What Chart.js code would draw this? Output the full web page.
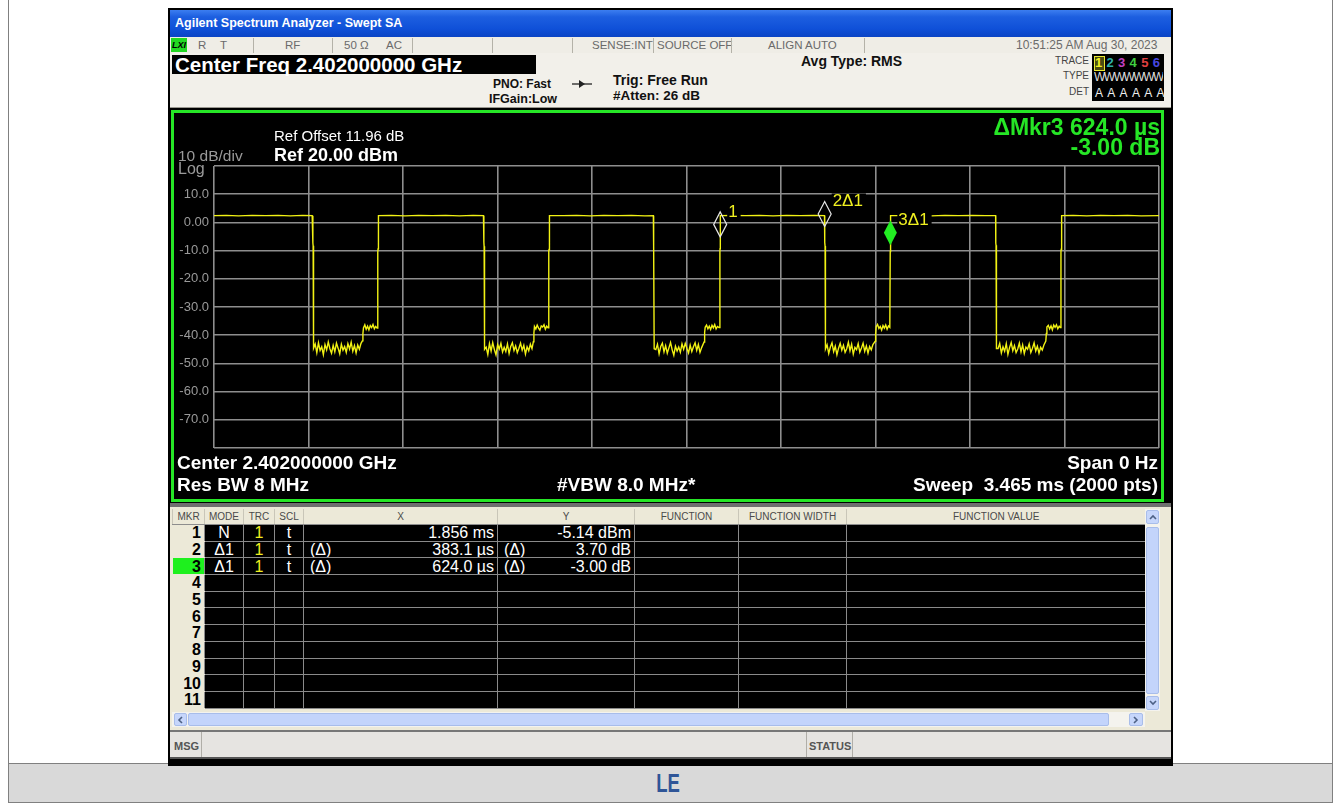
<!DOCTYPE html>
<html>
<head>
<meta charset="utf-8">
<title>Agilent Spectrum Analyzer - Swept SA</title>
<script src="https://cdn.jsdelivr.net/npm/chart.js@4.4.1/dist/chart.umd.min.js"></script>
<style>
  body { margin:0; width:1340px; height:803px; overflow:hidden; background:#fff; position:relative; font-family:"Liberation Sans", Arial, sans-serif; }
  .a { position:absolute; white-space:pre; }
  .st { top:37px; height:16px; line-height:16px; font-size:11.5px; color:#6a6a6a; }
  .vd { position:absolute; top:38px; width:1px; height:15px; background:#b4b2a8; }
  .hd { font-weight:bold; color:#111; }
  .pw { color:#fff; font-weight:bold; font-size:19px; line-height:22px; }
  .lab { color:#444; font-size:10px; text-align:right; width:60px; line-height:12px; }
  #mkr { position:absolute; left:172px; top:509px; width:973px; border-collapse:collapse; table-layout:fixed; }
  #mkr th { height:15px; padding:0; background:#ece9d8; color:#4a4a4a; font-weight:normal; font-size:10px; border-left:1px solid #c9c6b8; border-bottom:1px solid #8d8d8d; }
  #mkr td { height:15.7px; padding:0; background:#000; color:#fff; font-size:16px; line-height:15px; border:1px solid #8a8a8a; overflow:hidden; white-space:nowrap; }
  #mkr td.n { background:#ece9d8; color:#000; font-weight:bold; text-align:right; padding-right:3px; border-color:#ece9d8 #8a8a8a #ece9d8 #ece9d8; }
  #mkr td.on { background:#1ef01e; }
  #mkr td.c { text-align:center; }
  .pre { float:left; padding-left:6px; }
  .val { float:right; padding-right:3px; }
</style>
</head>
<body>
<!-- page frame and caption bar -->
<div class="a" style="left:8px;top:-1px;width:1323px;height:764px;border:1px solid #808080"></div>
<div class="a" style="left:8px;top:763px;width:1323px;height:38px;background:#d9d9d9;border:1px solid #808080"></div>
<div class="a" style="left:652px;top:770px;width:32px;text-align:center;font:bold 25px 'Liberation Sans';line-height:26px;color:#2f5597;transform:scaleX(0.74)">LE</div>

<!-- instrument screen -->
<div class="a" style="left:168px;top:8px;width:1005px;height:758px;background:#000"></div>
<div class="a" style="left:170px;top:10px;width:1001px;height:27px;background:linear-gradient(#3c7ef0 0%,#1d5fe0 25%,#0f50d8 70%,#0a44c4 100%)"></div>
<div class="a" style="left:175px;top:14px;font:bold 12.5px 'Liberation Sans';line-height:18px;color:#fff">Agilent Spectrum Analyzer - Swept SA</div>

<!-- status row -->
<div class="a" style="left:170px;top:37px;width:1001px;height:16px;background:#efede6"></div>
<div class="a" style="left:171px;top:38px;width:16px;height:14px;background:#22d822;font:italic bold 9px 'Liberation Sans';line-height:14px;color:#000;text-align:center">LXI</div>
<div class="a st" style="left:198px">R</div>
<div class="a st" style="left:220px">T</div>
<div class="vd" style="left:253px"></div>
<div class="a st" style="left:285px">RF</div>
<div class="vd" style="left:332px"></div>
<div class="a st" style="left:344px">50 Ω</div>
<div class="a st" style="left:386px">AC</div>
<div class="vd" style="left:412px"></div>
<div class="vd" style="left:492px"></div>
<div class="vd" style="left:572px"></div>
<div class="a st" style="left:592px">SENSE:INT</div>
<div class="vd" style="left:653px"></div>
<div class="a st" style="left:657px">SOURCE OFF</div>
<div class="vd" style="left:731px"></div>
<div class="a st" style="left:768px">ALIGN AUTO</div>
<div class="vd" style="left:864px"></div>
<div class="a st" style="left:1016px;font-size:12px">10:51:25 AM Aug 30, 2023</div>

<!-- header -->
<div class="a" style="left:170px;top:53px;width:1001px;height:54px;background:#f2f0ea;border-bottom:2px solid #9a9890"></div>
<div class="a" style="left:172px;top:55px;width:364px;height:19px;background:#000"></div>
<div class="a" style="left:175px;top:54px;font:bold 20.5px 'Liberation Sans';line-height:22px;color:#fff">Center Freq 2.402000000 GHz</div>
<div class="a hd" style="left:493px;top:77px;font-size:12px;line-height:14px">PNO: Fast</div>
<div class="a hd" style="left:489px;top:92px;font-size:12.5px;line-height:14px">IFGain:Low</div>
<svg class="a" style="left:572px;top:79px" width="20" height="10"><line x1="0" y1="5" x2="20" y2="5" stroke="#222" stroke-width="1.3"/><polygon points="7,1 13,5 7,9" fill="#222"/></svg>
<div class="a hd" style="left:613px;top:72px;font-size:14px;line-height:16px">Trig: Free Run</div>
<div class="a hd" style="left:613px;top:88px;font-size:13.5px;line-height:16px">#Atten: 26 dB</div>
<div class="a hd" style="left:801px;top:53px;font-size:14px;line-height:16px">Avg Type: RMS</div>
<div class="a lab" style="left:1029px;top:55px">TRACE</div>
<div class="a lab" style="left:1029px;top:70px">TYPE</div>
<div class="a lab" style="left:1029px;top:86px">DET</div>
<div class="a" style="left:1092px;top:54px;width:72px;height:47px;background:#000;overflow:hidden"></div>
<div class="a" style="left:1094px;top:56px;width:9px;height:13px;border:1px solid #e8e832;background:#4a4a10"></div>
<div class="a" id="traceNums" style="left:1095px;top:55px;font-size:13px;line-height:15px;font-weight:bold;letter-spacing:4.3px"></div>
<div class="a" style="left:1094px;top:70px;width:69px;height:15px;overflow:hidden;font-size:12px;line-height:15px;color:#ddd;letter-spacing:-1.5px">WWWWWWWWW</div>
<div class="a" style="left:1095px;top:86px;font-size:12px;line-height:15px;color:#eee;letter-spacing:4.3px">AAAAAA</div>

<!-- plot area -->
<div class="a" style="left:170px;top:108px;width:1001px;height:396px;background:#000"></div>
<div class="a" style="left:171px;top:110px;width:987px;height:386px;border:3px solid #26e626"></div>
<canvas id="trace" class="a" width="987" height="386" style="left:174px;top:113px"></canvas>
<div class="a" style="left:178px;top:147px;font-size:15.5px;line-height:18px;color:#9a9a9a">10 dB/div</div>
<div class="a" style="left:178px;top:160px;font-size:16px;line-height:18px;color:#9a9a9a">Log</div>
<div class="a" style="left:274px;top:127px;font-size:15px;line-height:18px;color:#fff">Ref Offset 11.96 dB</div>
<div class="a" style="left:274px;top:145px;font:bold 18px 'Liberation Sans';line-height:20px;color:#fff">Ref 20.00 dBm</div>
<div class="a" style="right:180px;top:114px;font:bold 23px 'Liberation Sans';line-height:26px;color:#26e626">ΔMkr3 624.0 µs</div>
<div class="a" style="right:180px;top:134px;font:bold 23px 'Liberation Sans';line-height:26px;color:#26e626">-3.00 dB</div>
<div class="a pw" style="left:177px;top:452px">Center 2.402000000 GHz</div>
<div class="a pw" style="left:177px;top:474px">Res BW 8 MHz</div>
<div class="a pw" style="left:557px;top:474px">#VBW 8.0 MHz*</div>
<div class="a pw" style="right:182px;top:452px">Span 0 Hz</div>
<div class="a pw" style="right:182px;top:474px">Sweep  3.465 ms (2000 pts)</div>

<!-- marker table -->
<div class="a" style="left:170px;top:503px;width:1001px;height:228px;background:#ece9d8;border-top:4px solid #6f6f6f;box-sizing:border-box"></div>
<table id="mkr">
  <colgroup><col style="width:32px"><col style="width:39px"><col style="width:31px"><col style="width:29px"><col style="width:194px"><col style="width:137px"><col style="width:104px"><col style="width:108px"><col style="width:299px"></colgroup>
  <thead><tr><th>MKR</th><th>MODE</th><th>TRC</th><th>SCL</th><th>X</th><th>Y</th><th>FUNCTION</th><th>FUNCTION WIDTH</th><th>FUNCTION VALUE</th></tr></thead>
  <tbody id="mkrRows"></tbody>
</table>
<!-- scroll bars -->
<div class="a" style="left:1145px;top:509px;width:15px;height:202px;background:#f4f3ee"></div>
<div class="a" style="left:1146px;top:510px;width:13px;height:14px;background:#c6d6fb;border-radius:2px;border:1px solid #a8bdea;box-sizing:border-box"></div>
<svg class="a" style="left:1149px;top:514px" width="8" height="6"><polyline points="1,5 4,2 7,5" fill="none" stroke="#4d6185" stroke-width="1.6"/></svg>
<div class="a" style="left:1146px;top:527px;width:13px;height:167px;background:#c3d4fb;border-radius:2px;border:1px solid #a8bdea;box-sizing:border-box"></div>
<div class="a" style="left:1146px;top:696px;width:13px;height:14px;background:#c6d6fb;border-radius:2px;border:1px solid #a8bdea;box-sizing:border-box"></div>
<svg class="a" style="left:1149px;top:700px" width="8" height="6"><polyline points="1,1 4,4 7,1" fill="none" stroke="#4d6185" stroke-width="1.6"/></svg>
<div class="a" style="left:172px;top:712px;width:973px;height:15px;background:#f4f3ee"></div>
<div class="a" style="left:188px;top:713px;width:921px;height:13px;background:#c3d4fb;border-radius:2px;border:1px solid #a8bdea;box-sizing:border-box"></div>
<div class="a" style="left:174px;top:713px;width:13px;height:13px;background:#c6d6fb;border-radius:2px;border:1px solid #a8bdea;box-sizing:border-box"></div>
<svg class="a" style="left:177px;top:716px" width="6" height="8"><polyline points="5,1 2,4 5,7" fill="none" stroke="#4d6185" stroke-width="1.6"/></svg>
<div class="a" style="left:1129px;top:713px;width:14px;height:13px;background:#c6d6fb;border-radius:2px;border:1px solid #a8bdea;box-sizing:border-box"></div>
<svg class="a" style="left:1133px;top:716px" width="6" height="8"><polyline points="1,1 4,4 1,7" fill="none" stroke="#4d6185" stroke-width="1.6"/></svg>

<!-- message bar -->
<div class="a" style="left:170px;top:730px;width:1001px;height:29px;background:#e6e4e1;border-top:2px solid #777;border-bottom:2px solid #555;box-sizing:border-box"></div>
<div class="a" style="left:174px;top:739px;font:bold 11px 'Liberation Sans';line-height:14px;color:#555">MSG</div>
<div class="a" style="left:201px;top:732px;width:1px;height:25px;background:#b0aea8"></div>
<div class="a" style="left:806px;top:732px;width:1px;height:25px;background:#b0aea8"></div>
<div class="a" style="left:809px;top:739px;font:bold 11px 'Liberation Sans';line-height:14px;color:#555">STATUS</div>
<div class="a" style="left:852px;top:732px;width:1px;height:25px;background:#b0aea8"></div>

<script>
// sweep: 0 .. 3.465 ms, 10 divisions; level: -80 .. 20 dBm, 10 dB/div
const xGridMs = [0, 0.3465, 0.693, 1.0395, 1.386, 1.7325, 2.079, 2.4255, 2.772, 3.1185, 3.465];
const yGridDbm = [-80, -70, -60, -50, -40, -30, -20, -10, 0, 10, 20];
const yTickLabels = ['', '-70.0', '-60.0', '-50.0', '-40.0', '-30.0', '-20.0', '-10.0', '0.00', '10.0', ''];

// trace 1 (time in ms, level in dBm)
const traceMs = [
  0, 0.045, 0.09, 0.14, 0.19, 0.235, 0.28, 0.325, 0.360,
  0.3625, 0.3635, 0.365,
  0.371, 0.377, 0.383, 0.389, 0.395, 0.401, 0.407, 0.413, 0.419, 0.425,
  0.431, 0.437, 0.443, 0.449, 0.455, 0.461, 0.467, 0.473, 0.479, 0.485,
  0.491, 0.497, 0.503, 0.509, 0.515, 0.521, 0.527, 0.533, 0.539, 0.544,
  0.546, 0.548, 0.553, 0.558, 0.563, 0.568, 0.573, 0.578, 0.583, 0.588, 0.593, 0.598,
  0.6005, 0.6015, 0.603,
  0.65, 0.70, 0.75, 0.80, 0.85, 0.90, 0.95, 0.988,
  0.9895, 0.9905, 0.992,
  0.998, 1.004, 1.010, 1.016, 1.022, 1.028, 1.034, 1.040, 1.046, 1.052,
  1.058, 1.064, 1.070, 1.076, 1.082, 1.088, 1.094, 1.100, 1.106, 1.112,
  1.118, 1.124, 1.130, 1.136, 1.142, 1.148, 1.154, 1.160, 1.166, 1.171,
  1.173, 1.175, 1.180, 1.185, 1.190, 1.195, 1.200, 1.205, 1.210, 1.215, 1.220, 1.225,
  1.2275, 1.2285, 1.230,
  1.28, 1.33, 1.38, 1.43, 1.48, 1.53, 1.58, 1.611,
  1.6115, 1.6125, 1.614,
  1.620, 1.626, 1.632, 1.638, 1.644, 1.650, 1.656, 1.662, 1.668, 1.674,
  1.680, 1.686, 1.692, 1.698, 1.704, 1.710, 1.716, 1.722, 1.728, 1.734,
  1.740, 1.746, 1.752, 1.758, 1.764, 1.770, 1.776, 1.782, 1.788, 1.797,
  1.799, 1.801, 1.806, 1.811, 1.816, 1.821, 1.826, 1.831, 1.836, 1.841, 1.846, 1.852,
  1.855, 1.8556, 1.8565,
  1.90, 1.95, 2.00, 2.05, 2.10, 2.15, 2.20, 2.2385,
  2.2391, 2.2396, 2.2406, 2.242,
  2.248, 2.254, 2.260, 2.266, 2.272, 2.278, 2.284, 2.290, 2.296, 2.302,
  2.308, 2.314, 2.320, 2.326, 2.332, 2.338, 2.344, 2.350, 2.356, 2.362,
  2.368, 2.374, 2.380, 2.386, 2.392, 2.398, 2.404, 2.410, 2.416, 2.424,
  2.426, 2.428, 2.433, 2.438, 2.443, 2.448, 2.453, 2.458, 2.463, 2.468, 2.473, 2.478,
  2.4795, 2.480, 2.4815,
  2.53, 2.58, 2.63, 2.68, 2.73, 2.78, 2.83, 2.866,
  2.8665, 2.8675, 2.869,
  2.875, 2.881, 2.887, 2.893, 2.899, 2.905, 2.911, 2.917, 2.923, 2.929,
  2.935, 2.941, 2.947, 2.953, 2.959, 2.965, 2.971, 2.977, 2.983, 2.989,
  2.995, 3.001, 3.007, 3.013, 3.019, 3.025, 3.031, 3.037, 3.043, 3.050,
  3.052, 3.054, 3.059, 3.064, 3.069, 3.074, 3.079, 3.084, 3.089, 3.094, 3.099, 3.103,
  3.1055, 3.1065, 3.108,
  3.15, 3.20, 3.25, 3.30, 3.35, 3.40, 3.465
];
const traceDbm = [
  2.4, 2.5, 2.3, 2.5, 2.4, 2.5, 2.3, 2.5, 2.4,
  -7.2, -8.3, -44.6,
  -43.1, -46.2, -42.7, -45.4, -44.1, -46.9, -43.3, -45.2, -42.4, -44.8,
  -46.4, -43.6, -45.9, -42.8, -44.6, -46.6, -43.2, -45.3, -44.0, -46.1,
  -43.0, -44.9, -42.5, -45.7, -43.7, -46.3, -43.5, -45.0, -42.9, -42.0,
  -39.5, -37.4, -36.3, -37.9, -36.8, -38.1, -36.6, -37.3, -36.2, -37.7, -36.9, -37.5,
  -10.6, -9.4, 2.4,
  2.5, 2.3, 2.5, 2.4, 2.5, 2.3, 2.5, 2.4,
  -7.0, -8.5, -45.0,
  -44.2, -46.8, -43.0, -45.6, -42.6, -45.1, -47.0, -43.4, -44.9, -42.9,
  -46.0, -44.3, -45.8, -43.1, -46.5, -44.0, -42.7, -45.4, -43.8, -46.2,
  -44.6, -42.8, -45.3, -43.6, -46.7, -44.1, -45.5, -43.2, -44.8, -42.3,
  -39.2, -36.9, -37.8, -36.4, -37.5, -38.2, -36.7, -37.1, -36.3, -37.9, -36.8, -37.4,
  -10.2, -9.6, 2.4,
  2.4, 2.5, 2.3, 2.5, 2.4, 2.5, 2.3, 2.4,
  -7.4, -8.2, -44.8,
  -45.1, -43.2, -46.6, -44.0, -42.8, -45.9, -43.7, -46.4, -44.5, -42.6,
  -45.2, -47.1, -43.9, -45.6, -44.2, -46.0, -43.1, -45.0, -42.9, -44.7,
  -46.3, -43.5, -45.8, -44.1, -42.7, -45.4, -43.3, -46.1, -44.4, -42.4,
  -39.0, -37.2, -36.4, -37.7, -36.8, -38.0, -36.5, -37.4, -36.2, -37.8, -36.9, -37.3,
  -10.5, -9.3, 2.4,
  2.5, 2.4, 2.5, 2.3, 2.5, 2.4, 2.5, 2.4,
  -1.44, -7.1, -8.4, -44.9,
  -43.4, -46.5, -44.2, -42.7, -45.8, -43.9, -46.9, -44.6, -42.9, -45.3,
  -43.6, -46.1, -44.8, -42.5, -45.5, -43.2, -46.7, -44.3, -45.1, -43.0,
  -46.0, -44.5, -42.8, -45.7, -43.8, -46.4, -44.0, -45.2, -43.3, -42.2,
  -39.3, -37.0, -36.2, -37.6, -36.9, -38.2, -36.6, -37.5, -36.4, -37.9, -36.7, -37.2,
  -10.3, -8.14, 2.4,
  2.4, 2.5, 2.3, 2.5, 2.4, 2.5, 2.4, 2.4,
  -7.3, -8.1, -44.7,
  -44.7, -42.9, -46.3, -44.1, -45.7, -43.0, -46.8, -44.4, -42.6, -45.5,
  -43.7, -46.2, -44.9, -42.8, -45.9, -43.4, -46.5, -44.2, -45.0, -43.1,
  -46.1, -44.6, -42.7, -45.6, -43.9, -46.4, -44.3, -45.3, -43.5, -42.1,
  -39.4, -37.1, -36.5, -37.8, -36.7, -38.1, -36.4, -37.2, -36.3, -37.7, -36.8, -37.3,
  -10.4, -9.5, 2.4,
  2.5, 2.3, 2.5, 2.4, 2.5, 2.3, 2.4
];

// markers: 1 normal, 2 and 3 delta to 1 (absolute position shown here)
const markerMs = [1.856, 2.2391, 2.480];
const markerDbm = [-5.14, -1.44, -8.14];
const markerNames = ['1', '2Δ1', '3Δ1'];
const activeMarker = 2;

// marker table
const mkrMode = ['N', 'Δ1', 'Δ1'];
const mkrTrace = ['1', '1', '1'];
const mkrScale = ['t', 't', 't'];
const mkrXDelta = ['', '(Δ)', '(Δ)'];
const mkrX = ['1.856 ms', '383.1 µs', '624.0 µs'];
const mkrYDelta = ['', '(Δ)', '(Δ)'];
const mkrY = ['-5.14 dBm', '3.70 dB', '-3.00 dB'];

const traceColors = ['#f0f020', '#2fb0a8', '#c040c0', '#40d040', '#e04040', '#4848e0'];
document.getElementById('traceNums').innerHTML =
  traceColors.map((c, i) => '<span style="color:' + c + '">' + (i + 1) + '</span>').join('');

const rows = document.getElementById('mkrRows');
for (let r = 0; r < 11; r++) {
  const has = r < mkrMode.length;
  const tr = document.createElement('tr');
  tr.innerHTML =
    '<td class="n' + (r === activeMarker ? ' on' : '') + '">' + (r + 1) + '</td>' +
    '<td class="c">' + (has ? mkrMode[r] : '') + '</td>' +
    '<td class="c" style="color:#f0f020">' + (has ? mkrTrace[r] : '') + '</td>' +
    '<td class="c">' + (has ? mkrScale[r] : '') + '</td>' +
    '<td>' + (has ? '<span class="pre">' + mkrXDelta[r] + '</span><span class="val">' + mkrX[r] + '</span>' : '') + '</td>' +
    '<td>' + (has ? '<span class="pre">' + mkrYDelta[r] + '</span><span class="val">' + mkrY[r] + '</span>' : '') + '</td>' +
    '<td></td><td></td><td></td>';
  rows.appendChild(tr);
}

const markerPlugin = {
  id: 'markers',
  afterDatasetsDraw(chart) {
    const { ctx, scales: { x, y } } = chart;
    ctx.save();
    ctx.font = '17px "Liberation Sans"';
    ctx.textBaseline = 'middle';
    markerMs.forEach((t, i) => {
      const px = x.getPixelForValue(t);
      const py = y.getPixelForValue(markerDbm[i]);
      const w = ctx.measureText(markerNames[i]).width;
      ctx.fillStyle = '#000';
      ctx.fillRect(px + 7, py - 33, w + 4, 17);
      ctx.fillStyle = '#f0f020';
      ctx.fillText(markerNames[i], px + 8, py - 25);
      ctx.beginPath();
      ctx.moveTo(px, py);
      ctx.lineTo(px + 6.5, py - 12.5);
      ctx.lineTo(px, py - 25);
      ctx.lineTo(px - 6.5, py - 12.5);
      ctx.closePath();
      if (i === activeMarker) {
        ctx.fillStyle = '#22ee22';
        ctx.fill();
      } else {
        ctx.strokeStyle = '#e6e6e6';
        ctx.lineWidth = 1.2;
        ctx.stroke();
      }
    });
    ctx.restore();
  }
};

new Chart(document.getElementById('trace'), {
  type: 'line',
  data: {
    datasets: [{
      data: traceMs.map((t, i) => ({ x: t, y: traceDbm[i] })),
      borderColor: '#f2f214',
      borderWidth: 1.4,
      pointRadius: 0,
      tension: 0
    }]
  },
  options: {
    responsive: false,
    animation: false,
    devicePixelRatio: 1,
    layout: { padding: { top: 53, right: 2, bottom: 51, left: 0 } },
    plugins: { legend: { display: false }, tooltip: { enabled: false } },
    scales: {
      x: {
        type: 'linear',
        min: 0,
        max: 3.465,
        afterBuildTicks: s => { s.ticks = xGridMs.map(v => ({ value: v })); },
        afterFit: s => { s.height = 0; },
        ticks: { display: false },
        grid: { color: '#8e8e8e', lineWidth: 1.6, drawTicks: false },
        border: { display: false }
      },
      y: {
        type: 'linear',
        min: -80,
        max: 20,
        afterBuildTicks: s => { s.ticks = yGridDbm.map(v => ({ value: v })); },
        afterFit: s => { s.width = 40; },
        ticks: {
          autoSkip: false,
          color: '#9a9a9a',
          padding: 5,
          font: { family: 'Liberation Sans', size: 13 },
          callback: (v, i) => yTickLabels[i]
        },
        grid: { color: '#8e8e8e', lineWidth: 1.6, drawTicks: false },
        border: { display: false }
      }
    }
  },
  plugins: [markerPlugin]
});
</script>
</body>
</html>
